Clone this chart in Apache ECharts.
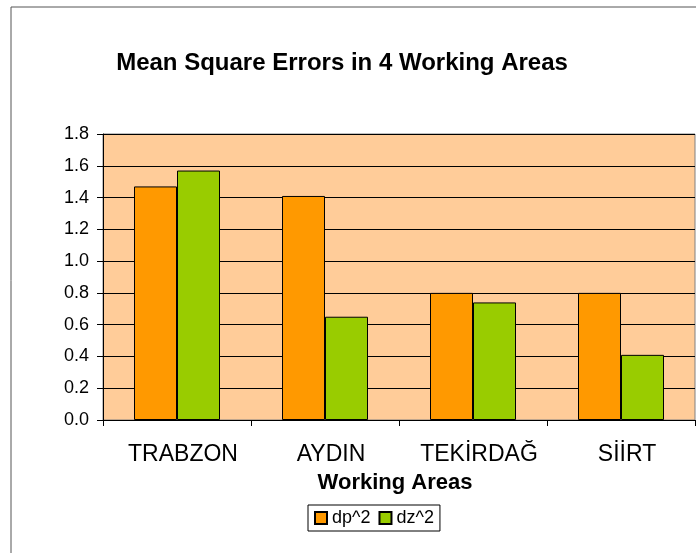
<!DOCTYPE html>
<html>
<head>
<meta charset="utf-8">
<script src="https://cdn.jsdelivr.net/npm/echarts@6/dist/echarts.min.js"></script>
<style>
  html, body { margin: 0; padding: 0; background: #fff; }
  #main { width: 696px; height: 553px; }
</style>
</head>
<body>
<div id="main"></div>
<script>
  // data
  var areas = ['TRABZON', 'AYDIN', 'TEKİRDAĞ', 'SİİRT'];
  var dp2 = [1.47, 1.41, 0.80, 0.80];
  var dz2 = [1.57, 0.65, 0.74, 0.41];
  var seriesNames = ['dp^2', 'dz^2'];

  var chart = echarts.init(document.getElementById('main'));

  var font = 'Liberation Sans, Arial, sans-serif';

  var option = {
    backgroundColor: '#fff',
    textStyle: { fontFamily: font },
    title: {
      text: 'Mean Square Errors in 4 Working Areas',
      left: 337,
      textAlign: 'center',
      top: 46,
      textStyle: { fontFamily: font, fontSize: 24, fontWeight: 'bold', color: '#000' }
    },
    graphic: [{
      type: 'rect',
      shape: { x: 11, y: 7, width: 720, height: 580 },
      style: { fill: 'none', stroke: '#555', lineWidth: 1 },
      silent: true
    }],
    legend: {
      data: seriesNames,
      left: 308,
      top: 505,
      itemWidth: 12,
      itemHeight: 12,
      itemGap: 8,
      padding: [4, 6, 4, 6],
      borderColor: '#000',
      borderWidth: 1,
      icon: 'rect',
      textStyle: { fontFamily: font, fontSize: 18, color: '#000' }
    },
    grid: {
      left: 103,
      right: 1,
      top: 134,
      bottom: 133,
      show: true,
      backgroundColor: '#FFCC99',
      borderColor: '#808080',
      borderWidth: 1
    },
    xAxis: {
      type: 'category',
      data: areas,
      name: 'Working Areas',
      nameLocation: 'middle',
      nameGap: 52,
      nameTextStyle: {
        fontFamily: font, fontSize: 22, fontWeight: 'bold', color: '#000',
        padding: [0, 8, 0, 0]
      },
      axisLine: { lineStyle: { color: '#000', width: 1 } },
      axisTick: { show: true, interval: 0, length: 6, lineStyle: { color: '#000' } },
      axisLabel: {
        fontFamily: font, fontSize: 23, color: '#000', margin: 23,
        interval: 0, padding: [0, 0, 0, 12]
      }
    },
    yAxis: {
      type: 'value',
      min: 0,
      max: 1.8,
      interval: 0.2,
      axisLine: { show: true, lineStyle: { color: '#000', width: 1 } },
      axisTick: { show: true, length: 6, lineStyle: { color: '#000' } },
      axisLabel: {
        fontFamily: font, fontSize: 18, color: '#000', margin: 14,
        formatter: function (v) { return v.toFixed(1); }
      },
      splitLine: { lineStyle: { color: '#000', width: 1 } }
    },
    series: [
      {
        name: seriesNames[0],
        type: 'bar',
        data: dp2,
        barWidth: 43,
        barGap: '0%',
        itemStyle: { color: '#FF9900', borderColor: '#000', borderWidth: 1 }
      },
      {
        name: seriesNames[1],
        type: 'bar',
        data: dz2,
        barWidth: 43,
        barGap: '0%',
        itemStyle: { color: '#99CC00', borderColor: '#000', borderWidth: 1 }
      }
    ]
  };

  chart.setOption(option);
</script>
</body>
</html>
